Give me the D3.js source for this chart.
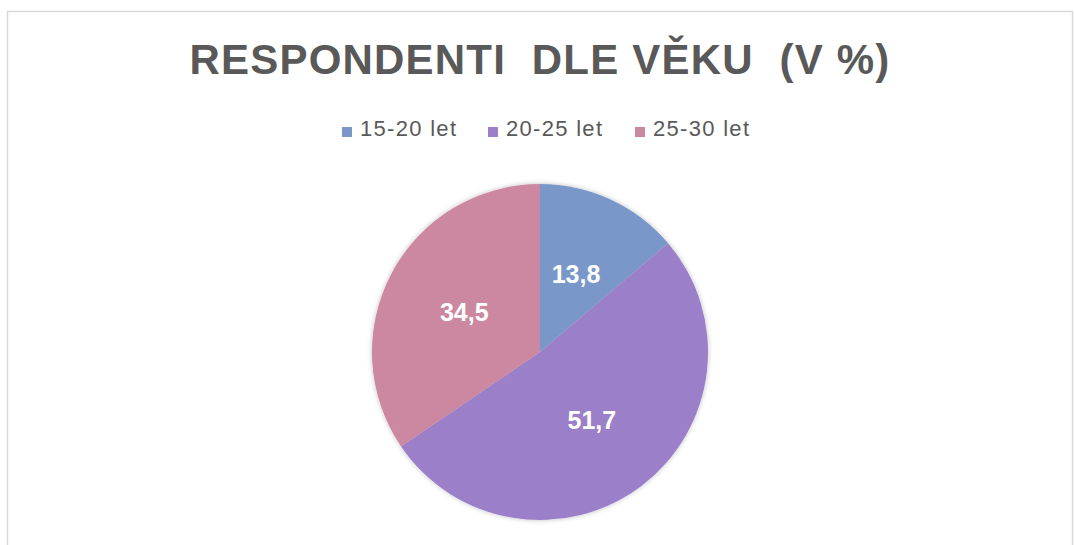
<!DOCTYPE html>
<html><head><meta charset="utf-8">
<script src="https://cdn.jsdelivr.net/npm/d3@7"></script>
<style>
html,body{margin:0;padding:0;background:#fff;}
svg{display:block;}
</style></head>
<body>
<script>
const categories = ["15-20 let", "20-25 let", "25-30 let"];
const values = [13.8, 51.7, 34.5];
const valueLabels = ["13,8", "51,7", "34,5"];
const colors = ["#7a97c9", "#9b80c9", "#cc88a1"];
const title = "RESPONDENTI\u00A0 DLE VĚKU\u00A0 (V %)";

const W = 1074, H = 545;
const svg = d3.select("body").append("svg").attr("width", W).attr("height", H);

const defs = svg.append("defs");
const f = defs.append("filter").attr("id","sh").attr("x","-10%").attr("y","-10%").attr("width","120%").attr("height","120%");
f.append("feDropShadow").attr("dx",0).attr("dy",0).attr("stdDeviation",2.5).attr("flood-color","#000").attr("flood-opacity",0.25);

// chart border
svg.append("rect").attr("x",7.5).attr("y",11.5).attr("width",1065).attr("height",560)
  .attr("fill","none").attr("stroke","#d9d9d9").attr("stroke-width",1.5);

svg.append("text").attr("x",540).attr("y",74).attr("text-anchor","middle")
  .attr("font-family","Liberation Sans, Arial, sans-serif").attr("font-weight","bold")
  .attr("letter-spacing",1.2)
  .attr("font-size",42).attr("fill","#595959").text(title);

// legend
const legendX = [342, 488, 635];
const lg = svg.append("g");
categories.forEach((c,i)=>{
  const g = lg.append("g").attr("transform",`translate(${legendX[i]},132)`);
  g.append("rect").attr("x",0).attr("y",-5).attr("width",10).attr("height",10).attr("fill",colors[i]);
  g.append("text").attr("x",18).attr("y",4).attr("font-family","Liberation Sans, Arial, sans-serif")
    .attr("font-size",22).attr("letter-spacing",1.3).attr("fill","#595959").text(c);
});

const cx = 540, cy = 352, R = 168;
const pie = d3.pie().sort(null).value(d=>d);
const arcs = pie(values);
const arc = d3.arc().innerRadius(0).outerRadius(R);
const labelArc = d3.arc().innerRadius(R*0.51).outerRadius(R*0.51);

const pg = svg.append("g").attr("transform",`translate(${cx},${cy})`);
pg.append("g").attr("filter","url(#sh)").selectAll("path").data(arcs).join("path")
  .attr("d",arc).attr("fill",(d,i)=>colors[i]);

pg.selectAll("text.lbl").data(arcs).join("text").attr("class","lbl")
  .attr("transform",d=>`translate(${labelArc.centroid(d)})`)
  .attr("text-anchor","middle").attr("dy","0.36em")
  .attr("font-family","Liberation Sans, Arial, sans-serif").attr("font-weight","bold")
  .attr("font-size",25).attr("fill","#fff").text((d,i)=>valueLabels[i]);
</script>
</body></html>
